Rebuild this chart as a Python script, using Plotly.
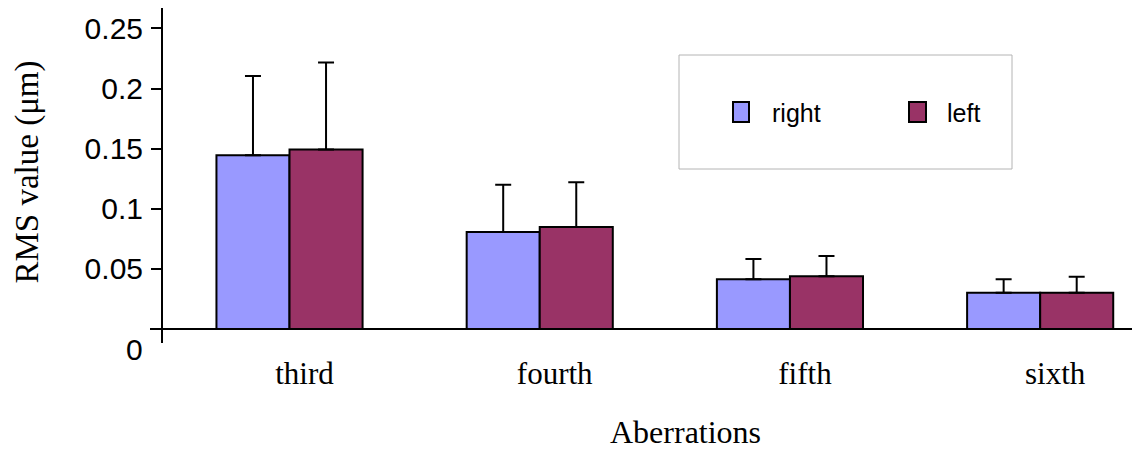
import plotly.graph_objects as go

# Data: mean RMS wavefront aberration by order, per eye, with SD (upper bar only)
categories = ["third", "fourth", "fifth", "sixth"]
series_names = ["right", "left"]
right_vals = [0.1445, 0.0807, 0.0413, 0.0302]
right_sd = [0.0660, 0.0393, 0.0169, 0.0111]
left_vals = [0.1492, 0.0849, 0.0438, 0.0302]
left_sd = [0.0724, 0.0371, 0.0169, 0.0133]
ytick_vals = [0.05, 0.1, 0.15, 0.2, 0.25]
ytick_text = ["0.05", "0.1", "0.15", "0.2", "0.25"]

colors = {"right": "#9999FF", "left": "#993366"}

W, H = 1132, 449
ML, MR, MT, MB = 163, 0, 8, 106
PW, PH = W - ML - MR, H - MT - MB


def px_x(x):
    return (x - ML) / PW


def px_y(y):
    return (H - MB - y) / PH


fig = go.Figure()
for name, vals, sd in [("right", right_vals, right_sd), ("left", left_vals, left_sd)]:
    fig.add_trace(go.Bar(
        x=categories, y=vals, name=name,
        marker=dict(color=colors[name], line=dict(color="black", width=2)),
        error_y=dict(type="data", symmetric=False, array=sd,
                     arrayminus=[0] * len(sd), color="black",
                     thickness=2, width=8),
        showlegend=False,
    ))

SERIF = "Liberation Serif, Times New Roman, serif"
SANS = "Liberation Sans, Arial, sans-serif"

shapes = [
    # horizontal baseline at zero, reaching slightly left of the y axis
    dict(type="line", xref="paper", yref="y", x0=px_x(150), x1=1, y0=0, y1=0,
         line=dict(color="black", width=2), layer="above"),
    # legend frame
    dict(type="rect", xref="paper", yref="paper",
         x0=px_x(679), x1=px_x(1012), y0=px_y(169), y1=px_y(55),
         line=dict(color="#b4b4b4", width=1), fillcolor="rgba(0,0,0,0)"),
]
annotations = [
    dict(text="0", xref="paper", yref="y", x=0, y=0, xanchor="right",
         yanchor="middle", xshift=-18, yshift=-21, showarrow=False,
         font=dict(family=SANS, size=30, color="black")),
    dict(text="RMS value (μm)", xref="paper", yref="paper", x=px_x(27.5),
         y=px_y(172), textangle=-90, xanchor="center", yanchor="middle",
         showarrow=False, font=dict(family=SERIF, size=33, color="black")),
    dict(text="Aberrations", xref="paper", yref="paper", x=px_x(685),
         y=px_y(432), xanchor="center", yanchor="middle", showarrow=False,
         font=dict(family=SERIF, size=32, color="black")),
]

# legend entries
legend_pos = {"right": (733, 749, 770), "left": (909, 926, 945)}
for name in series_names:
    x0, x1, tx = legend_pos[name]
    shapes.append(dict(type="rect", xref="paper", yref="paper",
                       x0=px_x(x0), x1=px_x(x1), y0=px_y(122), y1=px_y(102),
                       fillcolor=colors[name], line=dict(color="black", width=2)))
    annotations.append(dict(text=name, xref="paper", yref="paper", x=px_x(tx),
                            y=px_y(113), xanchor="left", yanchor="middle",
                            showarrow=False,
                            font=dict(family=SANS, size=25, color="black")))

fig.update_layout(
    width=W, height=H,
    margin=dict(l=ML, r=MR, t=MT, b=MB, pad=0),
    paper_bgcolor="white", plot_bgcolor="white",
    barmode="group", bargap=0.416, bargroupgap=0,
    shapes=shapes, annotations=annotations,
    xaxis=dict(type="category", range=[-0.5056, 3.367], showline=False,
               ticks="", showgrid=False, zeroline=False,
               tickfont=dict(family=SERIF, size=31, color="black"),
               ticklabelstandoff=9, ticklabelshift=15),
    yaxis=dict(range=[-0.01165, 0.267], showline=True, linewidth=2,
               linecolor="black", ticks="outside", ticklen=10, tickwidth=2,
               tickcolor="black", tickvals=ytick_vals, ticktext=ytick_text,
               showgrid=False, zeroline=False, ticklabelstandoff=2,
               tickfont=dict(family=SANS, size=30, color="black")),
)

fig.write_html("out.html")
